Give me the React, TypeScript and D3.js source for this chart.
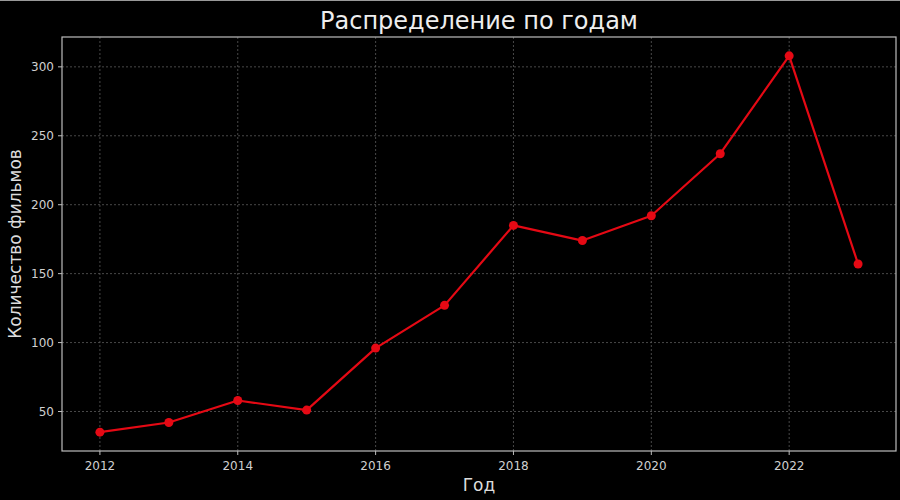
import React from "react";
import * as d3 from "d3";

const years = [2012, 2013, 2014, 2015, 2016, 2017, 2018, 2019, 2020, 2021, 2022, 2023];
const counts = [35, 42, 58, 51, 96, 127, 185, 174, 192, 237, 308, 157];
const xTicks = [2012, 2014, 2016, 2018, 2020, 2022];
const yTicks = [50, 100, 150, 200, 250, 300];
const title = "Распределение по годам";
const xLabel = "Год";
const yLabel = "Количество фильмов";

const W = 900;
const H = 500;
const M = { left: 62, right: 896, top: 37, bottom: 451 };
const FONT = "'DejaVu Sans', sans-serif";

export default function App() {
  const ymin = d3.min(counts)!;
  const ymax = d3.max(counts)!;
  const pad = (ymax - ymin) * 0.05;
  const x = d3.scaleLinear().domain([2011.45, 2023.55]).range([M.left, M.right]);
  const y = d3.scaleLinear().domain([ymin - pad, ymax + pad]).range([M.bottom, M.top]);
  const pts = years.map((yr, i) => [yr, counts[i]] as [number, number]);
  const line = d3.line<[number, number]>().x((d) => x(d[0])).y((d) => y(d[1]));
  const red = "#e50914";
  const grid = "#5a5a5a";
  const tickCol = "#d0d0d0";
  return (
    <div style={{ position: "fixed", left: 0, top: 0, width: W, height: H, background: "#000" }}>
      <svg width={W} height={H} style={{ display: "block" }}>
        <rect x={0} y={0} width={W} height={H} fill="#000" />
        <line x1={0} x2={W} y1={0.5} y2={0.5} stroke="#999" strokeWidth={1} />
        {xTicks.map((t) => (
          <line key={"gx" + t} x1={x(t)} x2={x(t)} y1={M.top} y2={M.bottom} stroke={grid} strokeWidth={0.8} strokeDasharray="2,2" />
        ))}
        {yTicks.map((t) => (
          <line key={"gy" + t} x1={M.left} x2={M.right} y1={y(t)} y2={y(t)} stroke={grid} strokeWidth={0.8} strokeDasharray="2,2" />
        ))}
        <path d={line(pts)!} fill="none" stroke={red} strokeWidth={2.2} strokeLinejoin="round" />
        {pts.map((p, i) => (
          <circle key={i} cx={x(p[0])} cy={y(p[1])} r={4.5} fill={red} />
        ))}
        <rect x={M.left} y={M.top} width={M.right - M.left} height={M.bottom - M.top} fill="none" stroke="#bdbdbd" strokeWidth={1.2} />
        {xTicks.map((t) => (
          <g key={"tx" + t}>
            <line x1={x(t)} x2={x(t)} y1={M.bottom} y2={M.bottom + 4} stroke="#bdbdbd" strokeWidth={1} />
            <text x={x(t)} y={469.5} fill={tickCol} fontFamily={FONT} fontSize={12} textAnchor="middle">{t}</text>
          </g>
        ))}
        {yTicks.map((t) => (
          <g key={"ty" + t}>
            <line x1={M.left - 4} x2={M.left} y1={y(t)} y2={y(t)} stroke="#bdbdbd" strokeWidth={1} />
            <text x={M.left - 8} y={y(t)} dy="0.36em" fill={tickCol} fontFamily={FONT} fontSize={12} textAnchor="end">{t}</text>
          </g>
        ))}
        <text x={(M.left + M.right) / 2} y={29} fill="#eeeeee" fontFamily={FONT} fontSize={24} textAnchor="middle">{title}</text>
        <text x={(M.left + M.right) / 2} y={491} fill="#dddddd" fontFamily={FONT} fontSize={17} textAnchor="middle">{xLabel}</text>
        <text transform={`translate(21,${(M.top + M.bottom) / 2}) rotate(-90)`} fill="#dddddd" fontFamily={FONT} fontSize={17} textAnchor="middle">{yLabel}</text>
      </svg>
    </div>
  );
}
